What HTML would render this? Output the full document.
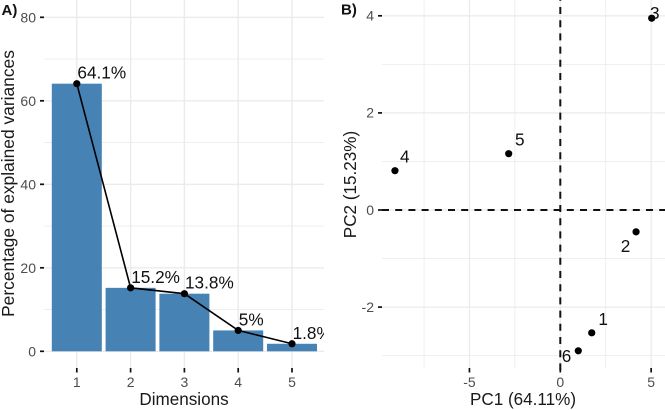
<!DOCTYPE html>
<html lang="en">
<head>
<meta charset="utf-8">
<title>PCA scree plot and score plot</title>
<style>
html,body{margin:0;padding:0;background:#fff;}
svg{display:block;font-family:"Liberation Sans",sans-serif;filter:blur(0.3px);}
</style>
</head>
<body>
<svg id="chart" xmlns="http://www.w3.org/2000/svg" width="665" height="410" viewBox="0 0 665 410">
  <defs>
    <clipPath id="clip-a"><rect x="44" y="0" width="280" height="368"/></clipPath>
  </defs>
  <g id="panel-a"></g>
  <g id="panel-b"></g>
  <text x="1.5" y="15" font-size="15" font-weight="bold" fill="#111">A)</text>
  <text x="341" y="14.5" font-size="15" font-weight="bold" fill="#111">B)</text>
  <text x="184" y="405" font-size="17.1" text-anchor="middle" fill="#1a1a1a">Dimensions</text>
  <text transform="translate(14 183.5) rotate(-90)" font-size="17.4" text-anchor="middle" fill="#1a1a1a">Percentage of explained variances</text>
  <text x="523" y="405" font-size="17.1" text-anchor="middle" fill="#1a1a1a">PC1 (64.11%)</text>
  <text transform="translate(356 184.5) rotate(-90)" font-size="17.1" text-anchor="middle" fill="#1a1a1a">PC2 (15.23%)</text>
</svg>
<script>
// Scree plot data
const screeDimensions = [1, 2, 3, 4, 5];
const screeValues = [64.1, 15.2, 13.8, 5.0, 1.8];
const screeLabels = ['64.1%', '15.2%', '13.8%', '5%', '1.8%'];
const screeYTicks = [0, 20, 40, 60, 80];
const screeYMinor = [10, 30, 50, 70];

// Score plot data
const scoreIds = ['1', '2', '3', '4', '5', '6'];
const scorePC1 = [1.73, 4.17, 5.03, -9.1, -2.84, 0.99];
const scorePC2 = [-2.53, -0.45, 3.95, 0.81, 1.16, -2.9];
const scoreXTicks = [-5, 0, 5];
const scoreXMinor = [-7.5, -2.5, 2.5];
const scoreYTicks = [-2, 0, 2, 4];
const scoreYMinor = [-3, -1, 1, 3];

const NS = 'http://www.w3.org/2000/svg';
const GRID = '#ebebeb';
const TICK_TEXT = '#4d4d4d';

// Axis functions
const ax = d => 76.8 + (d - 1) * 53.8;
const ay = v => 351.3 - v * 4.175;
const bx = v => 560.3 + v * 18.17;
const by = v => 210 - v * 48.55;

function mk(parent, tag, attrs, text) {
  const el = document.createElementNS(NS, tag);
  for (const k in attrs) el.setAttribute(k, attrs[k]);
  if (text !== undefined) el.textContent = text;
  parent.appendChild(el);
  return el;
}
function hideName(el, name) {
  
  
  return el;
}
function line(parent, x1, y1, x2, y2, stroke, sw, name) {
  const el = mk(parent, 'line', {x1, y1, x2, y2, stroke, 'stroke-width': sw});
  return hideName(el, name);
}
function tickText(parent, x, y, anchor, text, name) {
  const el = mk(parent, 'text', {x, y, 'text-anchor': anchor, 'font-size': 14, fill: TICK_TEXT}, text);
  return hideName(el, name);
}

// Panel A
const a = document.getElementById('panel-a');
screeYMinor.forEach(v => line(a, 44, ay(v), 324, ay(v), GRID, 0.8, 'grid-minor-y'));
screeYTicks.forEach(v => line(a, 44, ay(v), 324, ay(v), GRID, 1.4, 'grid-major-y'));
screeDimensions.forEach(d => line(a, ax(d), 0, ax(d), 368, GRID, 1.4, 'grid-major-x'));
screeValues.forEach((v, i) => {
  const bar = mk(a, 'rect', {
    x: ax(screeDimensions[i]) - 25, y: ay(v), width: 50, height: ay(0) - ay(v), fill: '#4682b4'
  });
  
  
});
const trend = mk(a, 'polyline', {
  points: screeValues.map((v, i) => ax(screeDimensions[i]) + ',' + ay(v)).join(' '),
  fill: 'none', stroke: '#000', 'stroke-width': 1.6
});


const aLabels = mk(a, 'g', {'clip-path': 'url(#clip-a)'});


screeValues.forEach((v, i) => {
  const dot = mk(a, 'circle', {cx: ax(screeDimensions[i]), cy: ay(v), r: 3.6, fill: '#000'});
  
  
  const lab = mk(aLabels, 'text', {x: ax(screeDimensions[i]) + 0.6, y: ay(v) - 5, 'font-size': 17.2, fill: '#111'}, screeLabels[i]);
  
  
});
screeYTicks.forEach(v => {
  line(a, 40, ay(v), 44, ay(v), '#111', 1.7, 'y-tick');
  tickText(a, 36, ay(v) + 5, 'end', v, 'y-tick-label');
});
screeDimensions.forEach(d => {
  line(a, ax(d), 368, ax(d), 372.5, '#111', 1.7, 'x-tick');
  tickText(a, ax(d), 387, 'middle', d, 'x-tick-label');
});

// Panel B
const b = document.getElementById('panel-b');
scoreYMinor.forEach(v => line(b, 382, by(v), 665, by(v), GRID, 0.8, 'grid-minor-y'));
scoreYTicks.forEach(v => line(b, 382, by(v), 665, by(v), GRID, 1.3, 'grid-major-y'));
scoreXMinor.forEach(v => line(b, bx(v), 0, bx(v), 368, GRID, 0.8, 'grid-minor-x'));
scoreXTicks.forEach(v => line(b, bx(v), 0, bx(v), 368, GRID, 1.3, 'grid-major-x'));
line(b, 382, by(0), 665, by(0), '#111', 2, 'zero-line-horizontal').setAttribute('stroke-dasharray', '7 6.2');
const zeroV = line(b, bx(0), 0, bx(0), 372, '#111', 2, 'zero-line-vertical');
zeroV.setAttribute('stroke-dasharray', '7 6.2');
zeroV.setAttribute('stroke-dashoffset', '6.2');
scoreIds.forEach((id, i) => {
  const dot = mk(b, 'circle', {cx: bx(scorePC1[i]), cy: by(scorePC2[i]), r: 3.6, fill: '#000'});
  
  
  // label placement mirrors the repel layout per point id
  const nudge = {
    '1': [6.6, -7.6], '2': [-15.3, 20.3], '3': [-1.7, 1],
    '4': [5, -8], '5': [6.3, -8], '6': [-16.6, 11]
  }[id];
  const lab = mk(b, 'text', {x: bx(scorePC1[i]) + nudge[0], y: by(scorePC2[i]) + nudge[1], 'font-size': 17.2, fill: '#111'}, id);
  
  
});
scoreYTicks.forEach(v => {
  line(b, 378, by(v), 382, by(v), '#111', 1.7, 'y-tick');
  tickText(b, 374, by(v) + 4.8, 'end', v, 'y-tick-label');
});
scoreXTicks.forEach(v => {
  line(b, bx(v), 368, bx(v), 372.5, '#111', 1.7, 'x-tick');
  tickText(b, bx(v), 387, 'middle', v, 'x-tick-label');
});
</script>
</body>
</html>
